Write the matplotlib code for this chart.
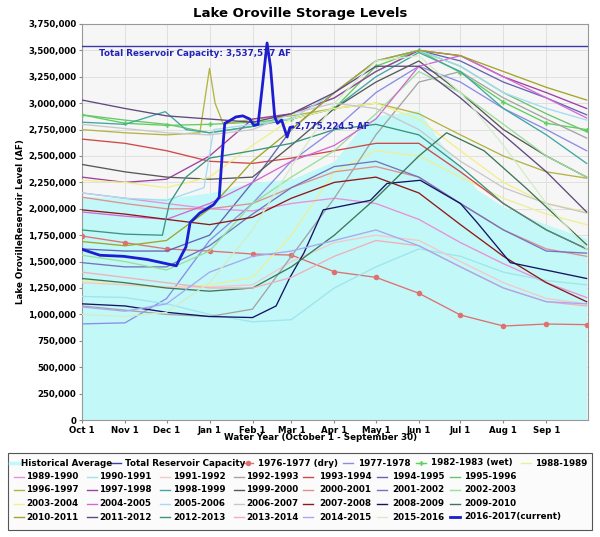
import matplotlib
matplotlib.use("Agg")
import matplotlib.pyplot as plt
from matplotlib.lines import Line2D
from matplotlib.patches import Rectangle
from matplotlib.ticker import FuncFormatter, MultipleLocator

# ---------------- data (storage in millions of acre-feet) ----------------
month_days = [0, 31, 61, 92, 123, 151, 182, 212, 243, 273, 304, 335, 364]
month_labels = ["Oct 1", "Nov 1", "Dec 1", "Jan 1", "Feb 1", "Mar 1",
                "Apr 1", "May 1", "Jun 1", "Jul 1", "Aug 1", "Sep 1"]

capacity = 3.537577

hist_days = [0, 31, 61, 92, 123, 151, 182, 200, 212, 243, 260, 285, 304, 335, 364]
hist_avg = [2.12, 2.10, 2.10, 2.15, 2.25, 2.28, 2.45, 2.75, 2.88, 2.93, 2.60, 2.18, 2.02, 1.85, 1.72]

y1976_77 = [1.742, 1.679, 1.62, 1.60, 1.572, 1.562, 1.404, 1.351, 1.20, 0.994, 0.890, 0.909, 0.903]
y1977_78 = [0.91, 0.92, 1.15, 1.70, 2.05, 2.45, 2.75, 3.10, 3.35, 3.20, 2.95, 2.75, 2.55]
y1982_83 = [2.89, 2.81, 2.79, 2.80, 2.82, 2.85, 2.95, 3.35, 3.50, 3.29, 3.01, 2.81, 2.75]
y1988_89 = [1.32, 1.28, 1.25, 1.28, 1.35, 1.75, 2.35, 2.55, 2.50, 2.30, 2.10, 1.95, 1.85]
y1989_90 = [2.15, 2.10, 2.05, 2.00, 1.98, 2.05, 2.10, 2.05, 1.90, 1.68, 1.48, 1.30, 1.16]
y1990_91 = [1.17, 1.16, 1.10, 1.00, 0.93, 0.95, 1.25, 1.45, 1.62, 1.55, 1.40, 1.32, 1.28]
y1991_92 = [1.30, 1.28, 1.26, 1.26, 1.28, 1.50, 1.68, 1.75, 1.70, 1.50, 1.30, 1.15, 1.10]
y1992_93 = [1.08, 1.04, 1.00, 0.98, 1.05, 1.55, 2.10, 2.70, 3.20, 3.30, 3.05, 2.85, 2.67]
y1993_94 = [2.66, 2.62, 2.55, 2.45, 2.43, 2.48, 2.55, 2.62, 2.62, 2.35, 2.05, 1.80, 1.62]
y1994_95 = [1.62, 1.60, 1.60, 1.75, 2.25, 2.75, 3.10, 3.40, 3.50, 3.40, 3.20, 3.05, 2.89]
y1995_96 = [2.89, 2.84, 2.80, 2.72, 2.78, 2.90, 3.05, 3.30, 3.50, 3.35, 3.10, 2.90, 2.73]
d1996_97 = [0, 31, 61, 85, 92, 96, 102, 123, 151, 182, 212, 243, 273, 304, 335, 364]
y1996_97 = [2.75, 2.72, 2.70, 2.72, 3.33, 3.00, 2.80, 2.85, 2.88, 2.95, 3.00, 2.90, 2.70, 2.50, 2.35, 2.29]
y1997_98 = [2.30, 2.25, 2.28, 2.50, 2.85, 2.90, 3.05, 3.30, 3.50, 3.45, 3.25, 3.10, 2.95]
d1998_99 = [0, 31, 60, 75, 92, 123, 151, 182, 212, 243, 273, 304, 335, 364]
y1998_99 = [2.82, 2.80, 2.92, 2.75, 2.72, 2.78, 2.85, 2.95, 3.25, 3.48, 3.30, 2.95, 2.70, 2.43]
y1999_00 = [2.42, 2.35, 2.30, 2.28, 2.30, 2.60, 2.95, 3.20, 3.40, 3.10, 2.75, 2.50, 2.30]
y2000_01 = [2.11, 2.05, 2.00, 2.00, 2.05, 2.20, 2.35, 2.40, 2.30, 2.05, 1.80, 1.62, 1.55]
y2001_02 = [1.49, 1.45, 1.45, 1.65, 1.95, 2.20, 2.40, 2.45, 2.30, 2.05, 1.80, 1.60, 1.58]
y2002_03 = [1.56, 1.50, 1.42, 1.60, 2.05, 2.30, 2.55, 2.90, 3.30, 3.10, 2.80, 2.50, 2.30]
y2003_04 = [2.27, 2.25, 2.20, 2.30, 2.60, 2.85, 2.95, 3.00, 2.85, 2.55, 2.25, 2.05, 1.97]
y2004_05 = [1.97, 1.93, 1.90, 2.05, 2.25, 2.45, 2.60, 2.85, 3.35, 3.45, 3.25, 3.05, 2.86]
d2005_06 = [0, 31, 61, 88, 95, 123, 151, 182, 212, 243, 273, 304, 335, 364]
y2005_06 = [2.15, 2.10, 2.08, 2.20, 2.75, 2.80, 2.85, 3.10, 3.40, 3.50, 3.35, 3.10, 2.95, 2.84]
y2006_07 = [2.80, 2.76, 2.72, 2.70, 2.75, 2.90, 3.00, 2.95, 2.75, 2.45, 2.20, 2.05, 1.96]
y2007_08 = [1.99, 1.95, 1.90, 1.85, 1.92, 2.10, 2.25, 2.30, 2.15, 1.85, 1.55, 1.30, 1.12]
d2008_09 = [0, 31, 61, 92, 123, 140, 150, 160, 174, 208, 220, 244, 273, 285, 309, 364]
y2008_09 = [1.10, 1.08, 1.02, 0.98, 0.97, 1.08, 1.35, 1.58, 1.99, 2.08, 2.24, 2.27, 2.05, 1.87, 1.49, 1.34]
d2009_10 = [0, 31, 61, 92, 123, 151, 182, 212, 243, 263, 290, 320, 364]
y2009_10 = [1.34, 1.30, 1.25, 1.22, 1.25, 1.45, 1.75, 2.10, 2.50, 2.72, 2.55, 2.20, 1.66]
y2010_11 = [1.69, 1.65, 1.70, 2.00, 2.45, 2.75, 3.10, 3.40, 3.50, 3.45, 3.30, 3.15, 3.03]
y2011_12 = [3.03, 2.95, 2.88, 2.85, 2.82, 2.90, 3.10, 3.35, 3.35, 3.05, 2.70, 2.35, 1.97]
d2012_13 = [0, 31, 58, 63, 75, 92, 123, 151, 182, 212, 243, 273, 304, 335, 364]
y2012_13 = [1.80, 1.76, 1.75, 2.05, 2.30, 2.48, 2.55, 2.62, 2.75, 2.80, 2.70, 2.40, 2.05, 1.80, 1.62]
y2013_14 = [1.40, 1.35, 1.30, 1.25, 1.25, 1.35, 1.55, 1.70, 1.65, 1.45, 1.25, 1.12, 1.08]
y2014_15 = [1.07, 1.03, 1.10, 1.40, 1.55, 1.60, 1.70, 1.80, 1.65, 1.45, 1.25, 1.12, 1.10]
y2015_16 = [1.00, 0.98, 1.02, 1.30, 1.80, 2.40, 3.00, 3.40, 3.45, 3.10, 2.60, 2.05, 1.62]
d2016_17 = [0, 13, 30, 47, 68, 71, 75, 78, 85, 95, 99, 101, 103, 106, 111, 116, 121, 124,
            127, 130, 133.5, 136, 139, 141, 144, 148, 150, 152]
y2016_17 = [1.616, 1.56, 1.55, 1.52, 1.46, 1.54, 1.64, 1.87, 1.96, 2.04, 2.11, 2.49, 2.81,
            2.83, 2.87, 2.88, 2.85, 2.79, 2.80, 3.15, 3.57, 3.34, 2.87, 2.81, 2.84, 2.68, 2.77,
            2.7752245]

# ---------------- series table ----------------
series = [
    ("1976-1977 (dry)", month_days, y1976_77, "#e07070", "o"),
    ("1977-1978", month_days, y1977_78, "#8c8ce6", None),
    ("1982-1983 (wet)", month_days, y1982_83, "#5cd05c", "P"),
    ("1988-1989", month_days, y1988_89, "#eeee9a", None),
    ("1989-1990", month_days, y1989_90, "#e890d8", None),
    ("1990-1991", month_days, y1990_91, "#a0e4ec", None),
    ("1991-1992", month_days, y1991_92, "#f4c8c8", None),
    ("1992-1993", month_days, y1992_93, "#a4a4a4", None),
    ("1993-1994", month_days, y1993_94, "#d04848", None),
    ("1994-1995", month_days, y1994_95, "#6464b4", None),
    ("1995-1996", month_days, y1995_96, "#6cc46c", None),
    ("1996-1997", d1996_97, y1996_97, "#b4b444", None),
    ("1997-1998", month_days, y1997_98, "#a040a0", None),
    ("1998-1999", d1998_99, y1998_99, "#40a8a0", None),
    ("1999-2000", month_days, y1999_00, "#585858", None),
    ("2000-2001", month_days, y2000_01, "#e09090", None),
    ("2001-2002", month_days, y2001_02, "#7474bc", None),
    ("2002-2003", month_days, y2002_03, "#98e098", None),
    ("2003-2004", month_days, y2003_04, "#f0f08c", None),
    ("2004-2005", month_days, y2004_05, "#d468d4", None),
    ("2005-2006", d2005_06, y2005_06, "#a4dcf0", None),
    ("2006-2007", month_days, y2006_07, "#c8c8c8", None),
    ("2007-2008", month_days, y2007_08, "#901818", None),
    ("2008-2009", d2008_09, y2008_09, "#141464", None),
    ("2009-2010", d2009_10, y2009_10, "#3c7858", None),
    ("2010-2011", month_days, y2010_11, "#a4a428", None),
    ("2011-2012", month_days, y2011_12, "#604880", None),
    ("2012-2013", d2012_13, y2012_13, "#3c9480", None),
    ("2013-2014", month_days, y2013_14, "#f0b0b8", None),
    ("2014-2015", month_days, y2014_15, "#a8a8f0", None),
    ("2015-2016", month_days, y2015_16, "#d4ecc8", None),
]
current_label = "2016-2017(current)"
current_color = "#1c1cd0"
hist_color = "#c2f8f8"
cap_color = "#3a3aa8"

M = 1e6
W, H = 600, 537
fig = plt.figure(figsize=(W / 100, H / 100), dpi=100)
fig.patch.set_facecolor("white")
ax = fig.add_axes([82 / W, 1 - 420 / H, (588 - 82) / W, (420 - 24) / H])
ax.set_facecolor("#f6f6f6")

ax.fill_between(hist_days, [v * M for v in hist_avg], 0, color=hist_color, lw=0, zorder=1)
ax.axhline(capacity * M, color=cap_color, lw=1.0, zorder=5)

for label, days, vals, color, marker in series:
    ax.plot(days, [v * M for v in vals], color=color, lw=0.95, zorder=3,
            marker=marker, markersize=4 if marker == "o" else 3.5,
            markeredgewidth=0)

ax.plot(d2016_17, [v * M for v in y2016_17], color=current_color, lw=2.0, zorder=6)

ax.text(12.5, 3.515 * M, "Total Reservoir Capacity: 3,537,577 AF", color="#2222bb",
        fontsize=6.3, fontweight="bold", va="top", ha="left", zorder=7)
ax.text(d2016_17[-1] + 2, y2016_17[-1] * M, f"{y2016_17[-1] * M:,.1f} AF", color="#2222bb",
        fontsize=6.3, fontweight="bold", va="center", ha="left", zorder=7)

ax.set_xlim(0, 365)
ax.set_ylim(0, 3.75 * M)
ax.set_xticks(month_days[:-1])
ax.set_xticklabels(month_labels)
ax.yaxis.set_major_locator(MultipleLocator(250000))
ax.yaxis.set_major_formatter(FuncFormatter(lambda v, p: f"{int(round(v)):,}"))
for lab in ax.get_xticklabels() + ax.get_yticklabels():
    lab.set_fontsize(6.2)
    lab.set_fontweight("bold")
ax.tick_params(length=2, color="#888888", pad=2)
ax.grid(True, color="#dcdcdc", lw=0.6, zorder=0)
ax.set_axisbelow(True)
for s in ax.spines.values():
    s.set_color("#999999")
    s.set_linewidth(0.8)

fig.text(300 / W, 1 - 13 / H, "Lake Oroville Storage Levels", fontsize=9.5,
         fontweight="bold", ha="center", va="center")
fig.text(21 / W, 1 - 222 / H, "Lake OrovilleReservoir Level (AF)", fontsize=6.3,
         fontweight="bold", rotation=90, ha="center", va="center")
fig.text(321 / W, 1 - 438 / H, "Water Year (October 1 - September 30)", fontsize=6.3,
         fontweight="bold", ha="center", va="center")

# ---------------- legend (flow layout, drawn manually) ----------------
def fx(px):
    return px / W

def fy(py):
    return 1 - py / H

fig.patches.append(Rectangle((fx(8), fy(530)), fx(592) - fx(8), fy(453) - fy(530),
                             transform=fig.transFigure, facecolor="#fbfbfb",
                             edgecolor="#555555", lw=0.8, zorder=0))

row1 = [("Historical Average", hist_color, None, 10, 21, 2.5),
        ("Total Reservoir Capacity", cap_color, None, 111, 125, 1.0)]
row1 += [(lab, col, mk, hx, tx, 1.0) for (lab, _, _, col, mk), hx, tx in
         zip(series[:4], [243, 343, 416, 521], [258, 358, 431, 535])]
entries = [(r, 463) for r in row1]

rest = [(lab, col, mk, 1.0) for (lab, _, _, col, mk) in series[4:]]
rest.append((current_label, current_color, None, 2.0))
hxs = [14, 87, 160, 234, 303, 377, 450]
txs = [26, 99, 173, 246, 319, 392, 464]
rows_y = [476.5, 490, 503.5, 517]
for i, (lab, col, mk, lw) in enumerate(rest):
    r, c = divmod(i, 7)
    entries.append(((lab, col, mk, hxs[c], txs[c], lw), rows_y[r]))

for (lab, col, mk, hx, tx, lw), yy in entries:
    fig.lines.append(Line2D([fx(hx), fx(hx + 10)], [fy(yy), fy(yy)], color=col, lw=lw,
                            transform=fig.transFigure))
    if mk:
        fig.lines.append(Line2D([fx(hx + 5)], [fy(yy)], color=col, marker=mk,
                                markersize=4 if mk == "o" else 3.5, markeredgewidth=0,
                                transform=fig.transFigure))
    fig.text(fx(tx), fy(yy), lab, fontsize=6.3, fontweight="bold", ha="left", va="center")

fig.savefig("out.png", dpi=100)
